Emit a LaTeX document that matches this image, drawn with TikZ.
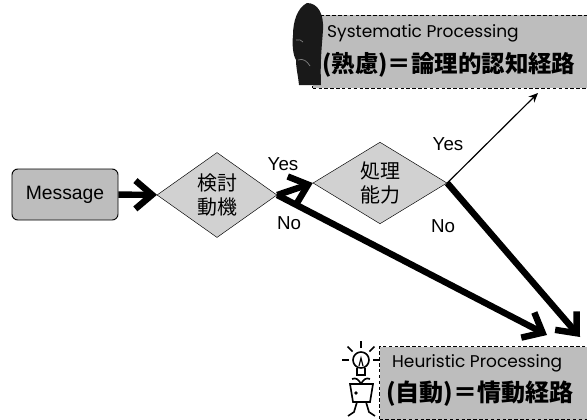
\documentclass[tikz,border=0pt]{standalone}
\usepackage{fontspec}
\setmainfont{Liberation Sans}
\newfontfamily\jpfont{Noto Sans CJK JP}
\newfontfamily\geofont{Poppins}
\usetikzlibrary{shapes.geometric,arrows.meta,positioning}
\tikzset{>=latex}
\definecolor{dotgray}{gray}{0.74}
\definecolor{lightdot}{gray}{0.82}

\tikzset{
  decision/.style={diamond,draw=black,thin,fill=lightdot,inner sep=0pt,
    align=center,font=\jpfont\fontsize{17}{20}\selectfont},
  route/.style={rectangle,draw=black,densely dashed,thin,fill=dotgray,inner sep=0pt},
  bigarrow/.style={line width=5.5pt,-{Straight Barb[length=5mm,width=8.5mm]}},
  thinarrow/.style={line width=1pt,-{Stealth[length=8pt,width=7pt]}},
  answer/.style={font=\fontsize{16}{18}\selectfont,inner sep=0pt}
}

\begin{document}
\begin{tikzpicture}[x=0.03cm,y=-0.03cm]
\useasboundingbox (0,0) rectangle (587,419);

% message and the two questions
\node (msg) [rectangle,rounded corners=5pt,draw=black,thick,fill=dotgray,
  minimum width=3.18cm,minimum height=1.53cm,
  font=\fontsize{16.5}{18}\selectfont] at (65,194.5) {Message};
\node (motive) [decision,minimum width=3.6cm,minimum height=2.55cm] at (217,195) {検討\\動機};
\node (ability) [decision,minimum width=4.02cm,minimum height=2.4cm] at (380,183) {処理\\能力};

% the two routes
\node (sys) [route,minimum width=8.3cm,minimum height=2.19cm] at (451,51.5) {};
\node (sysen) [anchor=west,inner sep=0pt,font=\geofont\fontsize{14.5}{16}\selectfont]
  at (327,33) {Systematic Processing};
\node (sysjp) [anchor=west,inner sep=0pt,font=\jpfont\bfseries\fontsize{20}{22}\selectfont]
  at (322,65) {(熟慮)＝論理的認知経路};

\node (heu) [route,minimum width=6.3cm,minimum height=2.19cm] at (484.5,383) {};
\node (heuen) [anchor=west,inner sep=0pt,font=\geofont\fontsize{14.5}{16}\selectfont]
  at (392,363) {Heuristic Processing};
\node (heujp) [anchor=west,inner sep=0pt,font=\jpfont\bfseries\fontsize{20.5}{22}\selectfont]
  at (386,394) {(自動)＝情動経路};

\coordinate (sysin) at (538,93);
\coordinate (heuinA) at (547,335);
\coordinate (heuinB) at (580,337);

% connectors
\draw [bigarrow] (msg) -- (motive);
\draw [bigarrow] (motive.east) -- (ability.west);
\draw [bigarrow] (motive.east) -- (heuinA);
\draw [bigarrow] (ability.east) -- (heuinB);
\draw [thinarrow] (ability.east) -- (sysin);

\node (yes1) [answer] at (283,164) {Yes};
\node (no1) [answer] at (289,223) {No};
\node (yes2) [answer] at (448,144) {Yes};
\node (no2) [answer] at (443,226) {No};

% thinking head
\fill [black!90] (307,3) .. controls (318,3) and (324,14) .. (323,30)
  .. controls (322,45) and (320,60) .. (321,85) -- (299,85)
  .. controls (298,75) and (296,68) .. (296,60)
  .. controls (293,55) and (292,45) .. (293,35)
  .. controls (293,22) and (297,8) .. (307,3) -- cycle;
\draw [gray,line width=0.6pt] (296,40) .. controls (299,39) and (301,40) .. (303,42);
\draw [gray,line width=0.6pt] (298,60) .. controls (303,58) and (307,61) .. (310,66);

% bulb figure
\begin{scope}[line width=1.4pt]
  \draw (361,360) circle (8);
  \draw (357,368) -- (357,375) -- (365,375) -- (365,368);
  \draw [line width=1pt] (359,366) -- (361,358) -- (363,366);
  \foreach \a in {0,45,90,135,180} {
    \draw (361,360) ++(\a+180:12) -- ++(\a+180:7);
  }
  \draw (350,384) -- (373,384) -- (370,402) -- (353,402) -- cycle;
  \draw (352,379) .. controls (356,377) and (359,380) .. (361,384);
  \draw (370,379) .. controls (366,377) and (363,380) .. (361,384);
  \fill (356,393) circle (1.8);
  \draw (357,402) -- (354,412) -- (348,416);
  \draw (366,402) -- (369,412) -- (375,416);
\end{scope}
\end{tikzpicture}
\end{document}
